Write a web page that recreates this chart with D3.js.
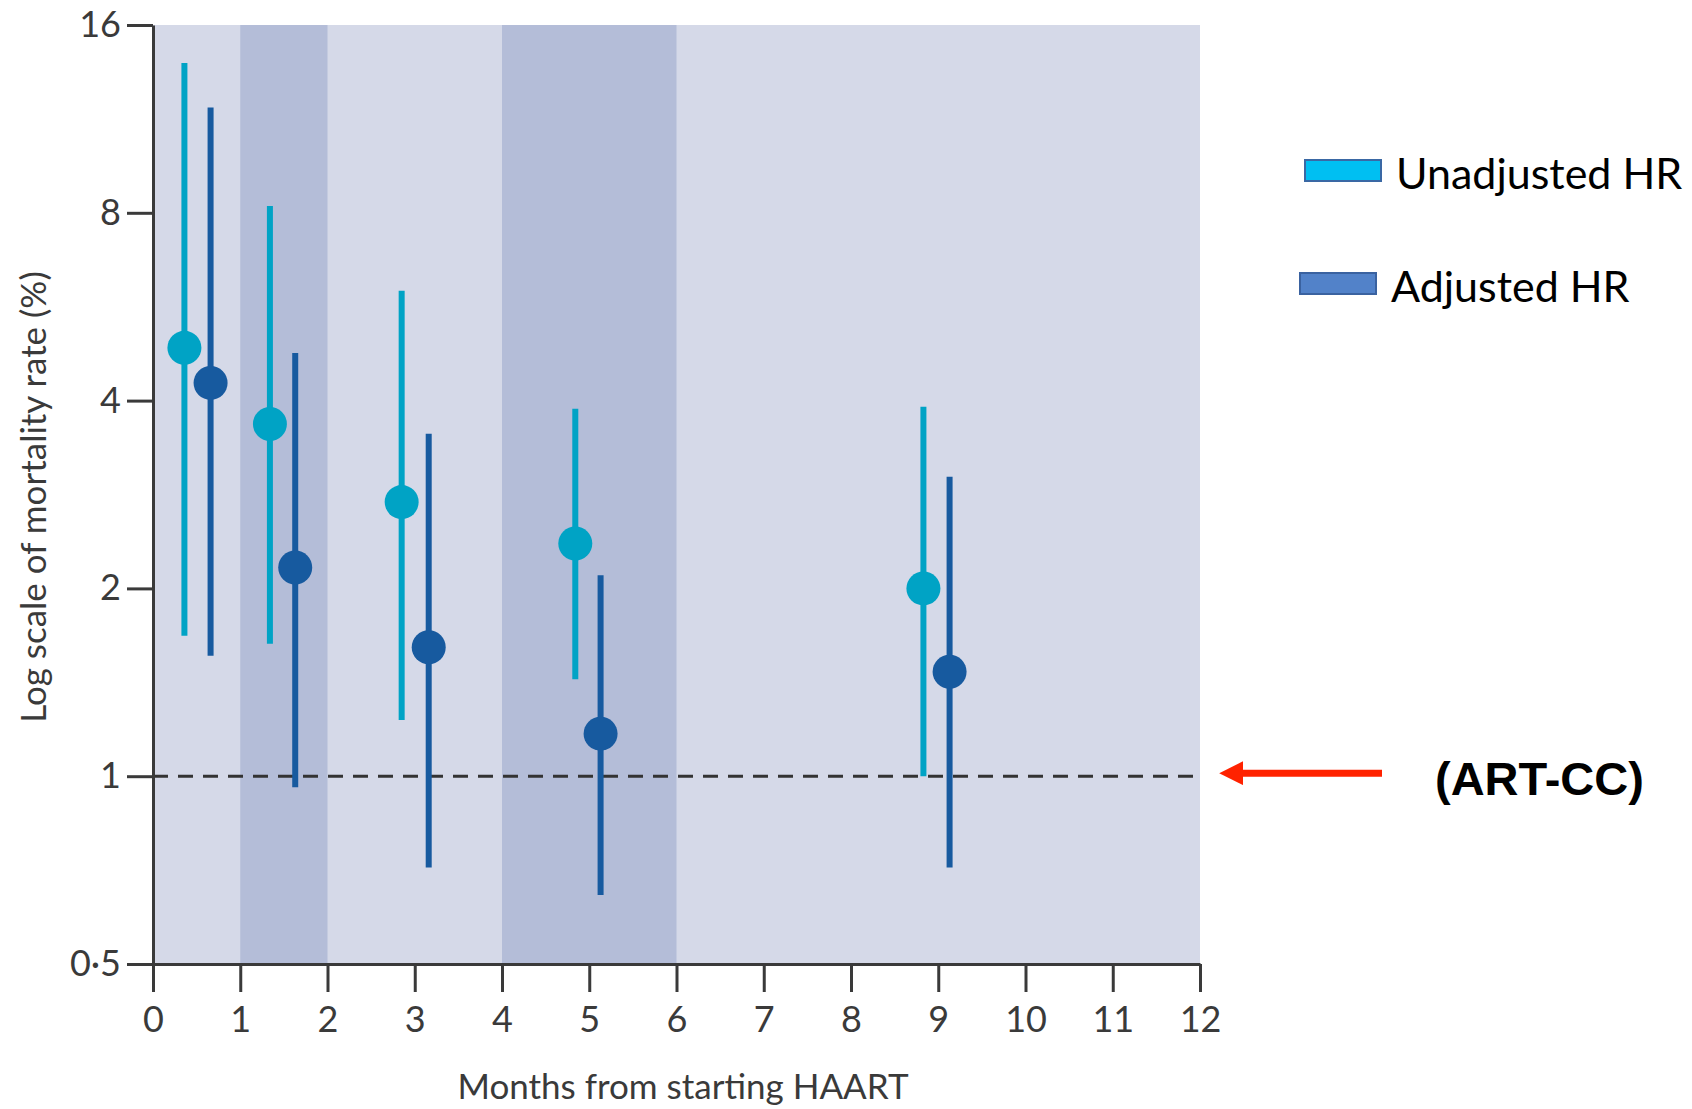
<!DOCTYPE html>
<html lang="en">
<head>
    <meta charset="UTF-8">
    <title>Mortality rate by months from starting HAART</title>
    <script src="https://d3js.org/d3.v7.min.js"></script>
    <style>
        body {
            margin: 0;
            background: #ffffff;
        }
        svg {
            display: block;
        }
        .axis text {
            font-family: "Lato", "Open Sans", sans-serif;
            font-size: 36px;
            fill: #3a3a3a;
        }
        .axis path, .axis line {
            stroke: #3a3a3a;
            stroke-width: 3px;
        }
        .axis-title {
            font-family: "Lato", "Open Sans", sans-serif;
            font-size: 35px;
            fill: #3a3a3a;
        }
        .legend text {
            font-family: "Lato", "Open Sans", sans-serif;
            font-size: 43px;
            fill: #000;
        }
    </style>
</head>
<body>
<svg width="1692" height="1109"></svg>
<script>
    // months (x) and hazard/mortality values
    const unadjMonth = [0.36, 1.34, 2.85, 4.84, 8.83];
    const unadjValue = [4.86, 3.67, 2.75, 2.36, 2.0];
    const unadjLow   = [1.68, 1.63, 1.23, 1.43, 1.0];
    const unadjHigh  = [13.9, 8.2, 6.0, 3.88, 3.91];

    const adjMonth = [0.66, 1.63, 3.16, 5.13, 9.13];
    const adjValue = [4.27, 2.16, 1.61, 1.17, 1.47];
    const adjLow   = [1.56, 0.96, 0.714, 0.645, 0.714];
    const adjHigh  = [11.8, 4.77, 3.54, 2.10, 3.02];

    const shadedBands = [[1, 2], [4, 6]];
    const yTicks = [0.5, 1, 2, 4, 8, 16];
    const xTicks = d3.range(0, 13);
    const refLine = 1;

    const legendItems = [
        { label: "Unadjusted HR", fill: "#00bff2", stroke: "#3a68a4" },
        { label: "Adjusted HR", fill: "#5282c9", stroke: "#3a62a0" }
    ];

    const colUnadj = "#00a3c5";
    const colAdj = "#175a9f";

    let svg = d3.select("svg");

    let x = d3.scaleLinear().domain([0, 12]).range([153, 1200]);
    let y = d3.scaleLog().base(2).domain([0.5, 16]).range([964, 25]);

    // plot background + darker bands
    svg.append("rect")
        .attr("x", x(0)).attr("y", y(16))
        .attr("width", x(12) - x(0)).attr("height", y(0.5) - y(16))
        .attr("fill", "#d5d9e8");

    svg.selectAll("rect.band")
        .data(shadedBands)
        .enter().append("rect")
        .attr("class", "band")
        .attr("x", d => x(d[0]))
        .attr("y", y(16))
        .attr("width", d => x(d[1]) - x(d[0]))
        .attr("height", y(0.5) - y(16))
        .attr("fill", "#b4bdd8");

    // reference line at 1
    svg.append("line")
        .attr("x1", x(0)).attr("x2", x(12))
        .attr("y1", y(refLine)).attr("y2", y(refLine))
        .attr("stroke", "#333")
        .attr("stroke-width", 3)
        .attr("stroke-dasharray", "15,10");

    function drawSeries(months, vals, lows, highs, color) {
        let g = svg.append("g");
        let rows = months.map((m, i) => ({ m: m, v: vals[i], lo: lows[i], hi: highs[i] }));
        g.selectAll("line")
            .data(rows)
            .enter().append("line")
            .attr("x1", d => x(d.m)).attr("x2", d => x(d.m))
            .attr("y1", d => y(d.lo)).attr("y2", d => y(d.hi))
            .attr("stroke", color)
            .attr("stroke-width", 6);
        g.selectAll("circle")
            .data(rows)
            .enter().append("circle")
            .attr("cx", d => x(d.m))
            .attr("cy", d => y(d.v))
            .attr("r", 17)
            .attr("fill", color);
    }

    drawSeries(unadjMonth, unadjValue, unadjLow, unadjHigh, colUnadj);
    drawSeries(adjMonth, adjValue, adjLow, adjHigh, colAdj);

    // axes
    svg.append("g")
        .attr("class", "axis")
        .attr("transform", `translate(${x(0)},0)`)
        .call(d3.axisLeft(y)
            .tickValues(yTicks)
            .tickSize(26)
            .tickSizeOuter(0)
            .tickPadding(6)
            .tickFormat(d => d === 0.5 ? "0·5" : d));

    let xAxis = svg.append("g")
        .attr("class", "axis")
        .attr("transform", `translate(0,${y(0.5)})`)
        .call(d3.axisBottom(x)
            .tickValues(xTicks)
            .tickSize(28)
            .tickSizeOuter(0)
            .tickPadding(8));
    xAxis.selectAll("text").attr("dy", "0.9em");

    svg.append("text")
        .attr("class", "axis-title")
        .attr("x", 683)
        .attr("y", 1099)
        .attr("text-anchor", "middle")
        .text("Months from starting HAART");

    svg.append("text")
        .attr("class", "axis-title")
        .attr("transform", "translate(46,497) rotate(-90)")
        .attr("text-anchor", "middle")
        .text("Log scale of mortality rate (%)");

    // legend
    let legend = svg.append("g").attr("class", "legend");
    let lg = legend.selectAll("g")
        .data(legendItems)
        .enter().append("g")
        .attr("transform", (d, i) => `translate(${1305 - i * 5},${160 + i * 113})`);
    lg.append("rect")
        .attr("width", 76).attr("height", 21)
        .attr("fill", d => d.fill)
        .attr("stroke", d => d.stroke)
        .attr("stroke-width", 2);
    lg.append("text")
        .attr("x", 91)
        .attr("y", 29)
        .text(d => d.label);

    // annotation arrow + label
    let defs = svg.append("defs");
    defs.append("marker")
        .attr("id", "arrowHead")
        .attr("viewBox", "0 0 10 10")
        .attr("refX", 0).attr("refY", 5)
        .attr("markerWidth", 3.4).attr("markerHeight", 3.4)
        .attr("orient", "auto-start-reverse")
        .append("path")
        .attr("d", "M0,0 L10,5 L0,10 z")
        .attr("fill", "#ff2200");

    svg.append("line")
        .attr("x1", 1382).attr("x2", 1243)
        .attr("y1", y(refLine) - 3).attr("y2", y(refLine) - 3)
        .attr("stroke", "#ff2200")
        .attr("stroke-width", 7)
        .attr("marker-end", "url(#arrowHead)");

    svg.append("text")
        .attr("x", 1435)
        .attr("y", 795)
        .attr("font-family", "Liberation Sans, Arial, sans-serif")
        .attr("font-weight", "bold")
        .attr("font-size", 47)
        .attr("fill", "#000")
        .text("(ART-CC)");
</script>
</body>
</html>
